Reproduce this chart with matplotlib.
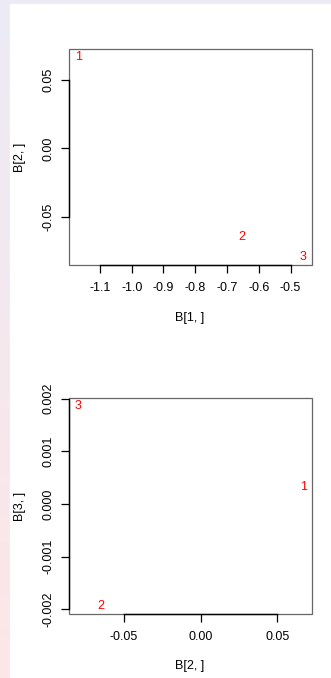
"""Two R-style text scatter panels: B[1,] vs B[2,] and B[2,] vs B[3,]."""

import matplotlib

matplotlib.use("Agg")
import matplotlib.pyplot as plt
import numpy as np
from matplotlib.patches import Rectangle
from matplotlib.ticker import FixedLocator, FormatStrFormatter

plt.rcParams["font.family"] = ["Liberation Sans", "DejaVu Sans"]
plt.rcParams["axes.unicode_minus"] = False

# --- data
point_labels = ["1", "2", "3"]
b1 = [-1.168, -0.652, -0.460]
b2 = [0.0669, -0.0651, -0.0796]
b3 = [0.00033, -0.00194, 0.00186]

b1_ticks = [-1.1, -1.0, -0.9, -0.8, -0.7, -0.6, -0.5]
b2_ticks_top = [-0.05, 0.00, 0.05]
b2_ticks = [-0.05, 0.00, 0.05]
b3_ticks = [-0.002, -0.001, 0.000, 0.001, 0.002]

W, H = 331, 678
FS = 9


def _rlim(vals):
    lo, hi = min(vals), max(vals)
    pad = 0.04 * (hi - lo)
    return lo - pad, hi + pad


def _panel(ax, x, y, xticks, yticks, xfmt, yfmt):
    ax.set_xlim(*_rlim(x))
    lo, hi = _rlim(y)
    # keep ticks that sit right on the box edge
    ax.set_ylim(min(lo, yticks[0]), max(hi, yticks[-1]))
    for xi, yi, lab in zip(x, y, point_labels):
        ax.text(xi, yi, lab, color="red", fontsize=FS, ha="center", va="center", zorder=5)
    for s in ("top", "right"):
        ax.spines[s].set_visible(False)
    for s in ("left", "bottom"):
        ax.spines[s].set_color("black")
        ax.spines[s].set_linewidth(1.0)
    ax.spines["bottom"].set_bounds(xticks[0], xticks[-1])
    ax.spines["left"].set_bounds(yticks[0], yticks[-1])
    ax.add_patch(Rectangle((0, 0), 1, 1, transform=ax.transAxes, fill=False,
                           edgecolor="#666666", linewidth=0.9, clip_on=False))
    ax.xaxis.set_major_locator(FixedLocator(xticks))
    ax.yaxis.set_major_locator(FixedLocator(yticks))
    ax.xaxis.set_major_formatter(FormatStrFormatter(xfmt))
    ax.yaxis.set_major_formatter(FormatStrFormatter(yfmt))
    ax.tick_params(length=5.5, width=0.9, labelsize=FS, color="black")
    ax.tick_params(axis="x", pad=6.5)
    ax.tick_params(axis="y", pad=5)
    for t in ax.get_yticklabels():
        t.set_rotation(90)
        t.set_va("center")


fig = plt.figure(figsize=(W / 100, H / 100), dpi=100)

# tinted page background with white sheet on top
bg = fig.add_axes([0, 0, 1, 1], zorder=-10)
grad = np.linspace(0, 1, 256)[:, None]
top_c = np.array([0xEC, 0xEB, 0xF5]) / 255
bot_c = np.array([0xFD, 0xE6, 0xE7]) / 255
img = top_c[None, None, :] * (1 - grad[:, :, None]) + bot_c[None, None, :] * grad[:, :, None]
bg.imshow(img, aspect="auto", extent=[0, 1, 0, 1])
bg.add_patch(Rectangle((10 / W, 0), 1, 1 - 4 / H, color="white"))
bg.set_xlim(0, 1)
bg.set_ylim(0, 1)
bg.axis("off")

left, width = 69.3 / W, 243 / W
height = 216 / H

ax1 = fig.add_axes([left, 1 - 265 / H, width, height])
_panel(ax1, b1, b2, b1_ticks, b2_ticks_top, "%.1f", "%.2f")
fig.text(190 / W, 1 - 318 / H, "B[1, ]", ha="center", va="center", fontsize=FS)
fig.text(20 / W, 1 - 157 / H, "B[2, ]", ha="center", va="center", fontsize=FS, rotation=90)

ax2 = fig.add_axes([left, 1 - 614 / H, width, height])
_panel(ax2, b2, b3, b2_ticks, b3_ticks, "%.2f", "%.3f")
fig.text(190 / W, 1 - 666 / H, "B[2, ]", ha="center", va="center", fontsize=FS)
fig.text(20 / W, 1 - 506 / H, "B[3, ]", ha="center", va="center", fontsize=FS, rotation=90)

fig.savefig("out.png", dpi=100)
